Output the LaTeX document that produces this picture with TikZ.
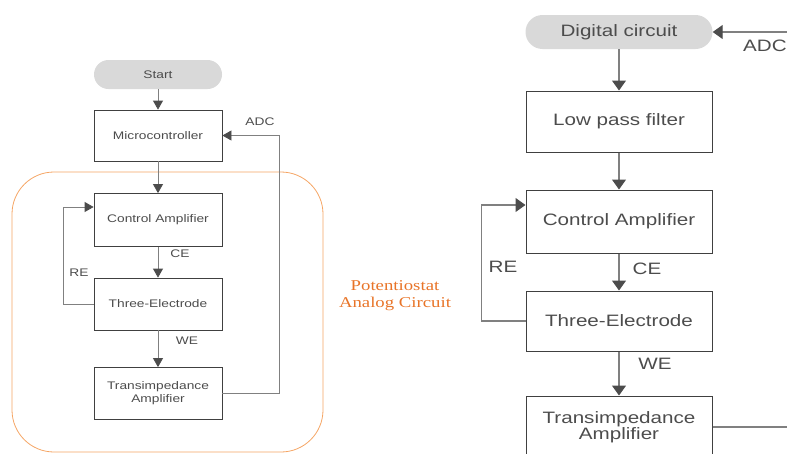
\documentclass[tikz,border=0pt]{standalone}
\usepackage{fontspec}
\setmainfont{Liberation Sans}
\newfontfamily\diagfont[FakeStretch=1.25]{Liberation Sans}
\newfontfamily\notefont[FakeStretch=1.25]{Liberation Serif}
\usetikzlibrary{arrows.meta, positioning, calc}
\definecolor{boxGray}{gray}{0.25}
\definecolor{textGray}{gray}{0.3}
\definecolor{lineGray}{gray}{0.5}
\definecolor{tipGray}{gray}{0.3}
\definecolor{pillGray}{gray}{0.85}
\definecolor{frameOrange}{RGB}{245,165,100}
\definecolor{noteOrange}{RGB}{232,116,40}

\begin{document}
\begin{tikzpicture}[x=1pt, y=-1pt,
    boxL/.style={draw=boxGray, line width=0.8pt, text=textGray, align=center,
        minimum width=128pt, minimum height=52pt, inner sep=0pt,
        font=\diagfont\fontsize{11}{13}\selectfont},
    pillL/.style={fill=pillGray, rounded corners=14.5pt, text=textGray,
        minimum width=128pt, minimum height=29pt, inner sep=0pt,
        font=\diagfont\fontsize{11}{13}\selectfont},
    boxR/.style={draw=boxGray, line width=1pt, text=textGray, align=center,
        minimum width=186pt, inner sep=0pt,
        font=\diagfont\fontsize{16.5}{15}\selectfont},
    pillR/.style={fill=pillGray, rounded corners=17pt, text=textGray,
        minimum width=187pt, minimum height=34pt, inner sep=0pt,
        font=\diagfont\fontsize{16.5}{15}\selectfont},
    tagL/.style={text=textGray, inner sep=0pt, font=\diagfont\fontsize{11}{13}\selectfont},
    tagR/.style={text=textGray, inner sep=0pt, font=\diagfont\fontsize{16.5}{15}\selectfont},
    connL/.style={draw=lineGray, line width=0.8pt,
        -{Triangle[width=10pt, length=9pt, color=tipGray]}},
    connR/.style={draw=lineGray, line width=1.1pt,
        -{Triangle[width=14pt, length=10pt, color=tipGray]}}]
    \useasboundingbox (0,0) rectangle (787,453);

    % Potentiostat frame
    \draw[frameOrange, line width=0.8pt, rounded corners=42pt] (12,172) rectangle (323,452);
    \node[text=noteOrange, align=center, font=\notefont\fontsize{15}{17}\selectfont]
        (noteL) at (395,296) {Potentiostat\\Analog Circuit};

    % Left flow
    \node[pillL] (startL) at (158,74.5) {Start};
    \node[boxL, minimum height=51pt] (microL) at (158,135.5) {Microcontroller};
    \node[boxL, minimum height=53pt] (ctrlL) at (158,220) {Control Amplifier};
    \node[boxL] (threeL) at (158,304) {Three-Electrode};
    \node[boxL] (transL) at (158,393.5) {Transimpedance\\Amplifier};

    \draw[connL] (startL) -- (microL);
    \draw[connL] (microL) -- (ctrlL);
    \draw[connL] (ctrlL) -- (threeL);
    \draw[connL] (threeL) -- (transL);
    \draw[connL] (transL.east) -- ++(57,0) |- (microL.east);
    \draw[connL] (threeL.west) -- ++(-30,0) |- ([yshift=13pt]ctrlL.west);

    \node[tagL] (adcL) at (260,122) {ADC};
    \node[tagL] (ceL) at (180,254) {CE};
    \node[tagL] (reL) at (79,273) {RE};
    \node[tagL] (weL) at (187,341) {WE};

    % Right flow
    \node[pillR] (digR) at (619,32) {\raisebox{-2pt}{Digital circuit}};
    \node[boxR, minimum height=61pt] (lowR) at (619,121.5) {\raisebox{-2pt}{Low pass filter}};
    \node[boxR, minimum height=63pt] (ctrlR) at (619,221.5) {\raisebox{-1pt}{Control Amplifier}};
    \node[boxR, minimum height=60pt] (threeR) at (619,321) {\raisebox{-1pt}{Three-Electrode}};
    \node[boxR, minimum height=62pt] (transR) at (619,427) {\raisebox{-2pt}{Transimpedance}\\\raisebox{-2pt}{Amplifier}};

    \coordinate (adcInR) at (787,32);
    \coordinate (adcOutR) at (787,427);

    \draw[connR] (digR) -- (lowR);
    \draw[connR] (lowR) -- (ctrlR);
    \draw[connR] (ctrlR) -- (threeR);
    \draw[connR] (threeR) -- (transR);
    \draw[connR] (adcInR) -- (digR.east);
    \draw[draw=lineGray, line width=1.1pt] (transR.east) -- (adcOutR);
    \draw[connR] (threeR.west) -- ++(-44,0) |- ([yshift=16.5pt]ctrlR.west);

    \node[tagR] (adcR) at (765,46) {ADC};
    \node[tagR] (ceR) at (647,269) {CE};
    \node[tagR] (reR) at (503,267) {RE};
    \node[tagR] (weR) at (655,364) {WE};
\end{tikzpicture}
\end{document}
